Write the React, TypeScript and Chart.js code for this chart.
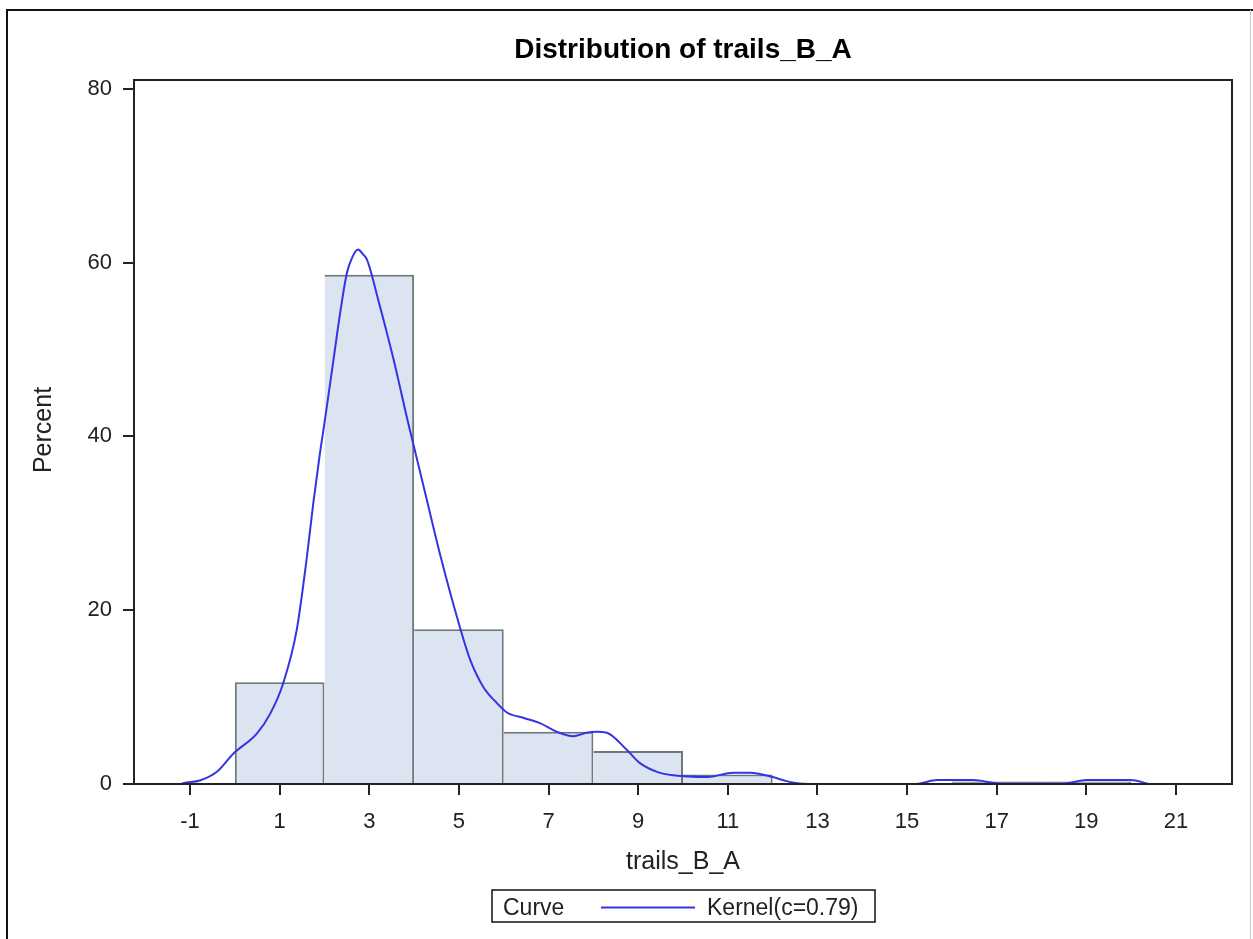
import React, { useEffect, useRef } from "react";
import { Chart, registerables } from "chart.js";

Chart.register(...registerables);

// ---- data ----
const titleText = "Distribution of trails_B_A";
const xAxisTitle = "trails_B_A";
const yAxisTitle = "Percent";
const legendHeader = "Curve";
const curveLabel = "Kernel(c=0.79)";

const binMids = [1, 3, 5, 7, 9, 11, 13, 15, 17, 19];
const binPercents = [11.7, 58.6, 17.8, 6.0, 3.8, 1.1, 0, 0, 0.3, 0.3];

const kernelX = [
  -1.2, -1.15, -0.78, -0.4, -0.03, 0.49, 0.79, 1.08, 1.38, 1.6, 1.75, 1.9, 2.01,
  2.19, 2.35, 2.5, 2.62, 2.75, 2.85, 2.95, 3.2, 3.53, 3.87, 4.2, 4.6, 5.03, 5.25,
  5.54, 5.85, 6.08, 6.45, 6.81, 7.19, 7.55, 7.85, 8.08, 8.3, 8.75, 9.04, 9.42,
  9.78, 10.54, 11.12, 11.5, 12.0, 12.33, 12.6, 12.8, 15.2, 15.67, 16.48, 17.0,
  17.5, 18.5, 19.0, 19.98, 20.4,
];
const kernelY = [
  0, 0.1, 0.4, 1.4, 3.5, 5.8, 8.1, 11.6, 17.7, 25.8, 32.3, 38.1, 41.9, 48.4,
  54.2, 58.8, 60.6, 61.5, 61.0, 60.3, 55.7, 49.1, 41.5, 34.5, 26.0, 17.9, 14.3,
  11.2, 9.3, 8.2, 7.6, 7.0, 6.0, 5.5, 5.9, 6.0, 5.9, 3.9, 2.4, 1.4, 1.0, 0.8,
  1.3, 1.3, 0.8, 0.3, 0.05, 0, 0, 0.45, 0.45, 0.1, 0.05, 0.05, 0.45, 0.45, 0,
];

const xTicks = [-1, 1, 3, 5, 7, 9, 11, 13, 15, 17, 19, 21];
const yTicks = [0, 20, 40, 60, 80];

const FONT = "'Liberation Sans', Arial, sans-serif";
const TEXT = "#222";
const CURVE = "#3434e4";

const decor = {
  id: "decor",
  afterDatasetsDraw(chart: any) {
    const { ctx, chartArea } = chart;
    ctx.save();
    ctx.strokeStyle = "#222";
    ctx.lineWidth = 2;
    ctx.strokeRect(chartArea.left, chartArea.top, chartArea.right - chartArea.left, chartArea.bottom - chartArea.top);
    ctx.restore();
  },
  afterDraw(chart: any) {
    const { ctx, chartArea } = chart;
    const cx = (chartArea.left + chartArea.right) / 2;
    ctx.save();
    // outer border
    ctx.strokeStyle = "#111";
    ctx.lineWidth = 2;
    ctx.beginPath();
    ctx.moveTo(7, 939);
    ctx.lineTo(7, 10);
    ctx.lineTo(1253, 10);
    ctx.stroke();
    ctx.strokeStyle = "#c8c8c8";
    ctx.lineWidth = 1;
    ctx.beginPath();
    ctx.moveTo(1250.5, 10);
    ctx.lineTo(1250.5, 939);
    ctx.stroke();

    ctx.fillStyle = "#000";
    ctx.textAlign = "center";
    ctx.textBaseline = "alphabetic";
    ctx.font = `bold 28px ${FONT}`;
    ctx.fillText(titleText, cx, 58);

    ctx.fillStyle = TEXT;
    ctx.font = `25px ${FONT}`;
    ctx.fillText(xAxisTitle, cx, 869);

    ctx.save();
    ctx.translate(51, (chartArea.top + chartArea.bottom) / 2 - 2);
    ctx.rotate(-Math.PI / 2);
    ctx.fillText(yAxisTitle, 0, 0);
    ctx.restore();

    // legend
    ctx.strokeStyle = "#111";
    ctx.lineWidth = 1.5;
    ctx.strokeRect(492, 890, 383, 32);
    ctx.font = `23px ${FONT}`;
    ctx.textAlign = "left";
    ctx.fillText(legendHeader, 503, 915);
    ctx.strokeStyle = CURVE;
    ctx.lineWidth = 2;
    ctx.beginPath();
    ctx.moveTo(601, 907.5);
    ctx.lineTo(695, 907.5);
    ctx.stroke();
    ctx.fillText(curveLabel, 707, 915);
    ctx.restore();
  },
};

export default function App() {
  const ref = useRef<HTMLCanvasElement | null>(null);
  useEffect(() => {
    if (!ref.current) return;
    const chart = new Chart(ref.current, {
      type: "bar",
      data: {
        datasets: [
          {
            type: "line",
            data: kernelX.map((x, i) => ({ x, y: kernelY[i] })),
            borderColor: CURVE,
            borderWidth: 2,
            pointRadius: 0,
            cubicInterpolationMode: "monotone",
            fill: false,
            order: 0,
          } as any,
          {
            type: "bar",
            data: binMids.map((x, i) => ({ x, y: binPercents[i] })),
            backgroundColor: "#dbe4f0",
            borderColor: "#6e767e",
            borderWidth: (c: any) => ({ top: 2, right: 2, bottom: 0, left: c.dataIndex === 0 ? 2 : 0 }),
            borderSkipped: false,
            inflateAmount: 0,
            barPercentage: 1,
            categoryPercentage: 1,
            order: 1,
          } as any,
        ],
      },
      options: {
        responsive: false,
        animation: false,
        events: [],
        layout: { padding: { left: 74, right: 21, top: 80, bottom: 95 } },
        plugins: { legend: { display: false }, title: { display: false }, tooltip: { enabled: false } },
        scales: {
          x: {
            type: "linear",
            offset: false,
            min: -2.25,
            max: 22.25,
            afterFit: (s: any) => { s.height = 60; },
            afterBuildTicks: (s: any) => { s.ticks = xTicks.map((v) => ({ value: v })); },
            grid: { display: true, offset: false, drawOnChartArea: false, drawTicks: true, tickLength: 11, tickColor: "#222", tickWidth: 2, lineWidth: 0 },
            border: { display: false },
            ticks: { color: TEXT, font: { family: FONT, size: 22 }, padding: 14, maxRotation: 0, autoSkip: false },
          },
          y: {
            type: "linear",
            min: 0,
            max: 81,
            afterFit: (s: any) => { s.width = 60; },
            afterBuildTicks: (s: any) => { s.ticks = yTicks.map((v) => ({ value: v })); },
            grid: { display: true, drawOnChartArea: false, drawTicks: true, tickLength: 11, tickColor: "#222", tickWidth: 2, lineWidth: 0 },
            border: { display: false },
            ticks: { color: TEXT, font: { family: FONT, size: 22 }, padding: 11, autoSkip: false },
          },
        },
      },
      plugins: [decor],
    });
    return () => chart.destroy();
  }, []);
  return (
    <div style={{ position: "absolute", left: 0, top: 0, width: 1253, height: 939, background: "#fff" }}>
      <canvas ref={ref} width={1253} height={939} style={{ display: "block" }} />
    </div>
  );
}
